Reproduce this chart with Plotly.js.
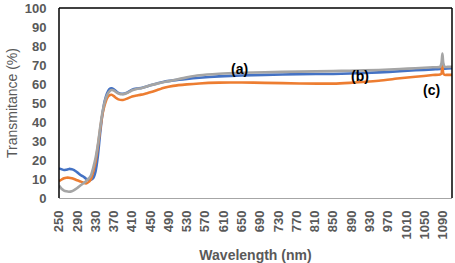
<!DOCTYPE html>
<html>
<head>
<meta charset="utf-8">
<script src="https://cdn.plot.ly/plotly-3.0.1.min.js"></script>
<style>html,body{margin:0;padding:0;background:#fff;}#chart{width:455px;height:263px;}</style>
</head>
<body>
<div id="chart"></div>
<script>
const wavelength = [250,255,261,266,272,278,283,290,298,305,309,312,316,320,325,330,335,340,345,350,355,360,365,370,375,380,390,400,410,420,430,440,450,465,480,500,530,557,600,650,700,776,850,886,950,996,1030,1068,1084,1087,1089,1091,1094,1100,1110];
const seriesB = [15.6,15.2,14.7,14.9,15.3,15.1,14.7,13.5,12,11,10.2,9.8,9.5,9.6,10.5,14,22,34,44,51,55,57.3,57.8,57.2,56.2,55.3,54.8,55.6,57,57.6,57.9,58.5,59.3,60.3,61.2,61.9,62.7,63.3,64,64.5,64.8,65.2,65.3,65.5,66.1,66.7,67.2,67.7,67.9,67.9,68,68,68.1,68.2,68.3];
const seriesC = [8.8,9.6,10.4,10.7,10.7,10.4,10,9.3,8.6,7.9,7.7,8,8.6,10,14,19,27,36,44,49,52.5,54,54.3,53.6,52.6,51.9,51.6,52.4,53.4,53.9,54.4,55,55.6,56.8,58,59,59.8,60.3,60.7,60.8,60.6,60.3,60.2,60.6,61.7,63,63.8,64.7,65,65.5,70,65.5,64.8,64.8,64.8];
const seriesA = [6.5,5,3.9,3.5,3.3,3.6,4.2,5.3,6.8,8,8.8,9.5,10.5,12,16,21,28,37,45,50.5,54,56,56.8,56.6,55.7,55,54.6,55.4,56.7,57.4,57.8,58.5,59.3,60.2,61,62,63.5,64.6,65.4,65.9,66.2,66.5,66.8,67,67.4,67.9,68.3,68.8,69,71,76,71,69,69,69.1];
const xTicks = [250,290,330,370,410,450,490,530,570,610,650,690,730,770,810,850,890,930,970,1010,1050,1090];
const yTicks = [0,10,20,30,40,50,60,70,80,90,100];
const labels = ["(a)","(b)","(c)"];
const labelX = [645,908,1066];
const labelY = [68,64,56.6];

const font = "'Liberation Sans', Arial, sans-serif";
const gray = "#595959";

const mk = (y, color) => ({x: wavelength, y: y, type: 'scatter', mode: 'lines',
  line: {color: color, width: 2.6, shape: 'spline', smoothing: 0.6}, hoverinfo: 'skip'});

const data = [mk(seriesB, '#4472C4'), mk(seriesC, '#ED7D31'), mk(seriesA, '#A5A5A5')];

const layout = {
  width: 455, height: 263,
  margin: {l: 59, r: 3, t: 8, b: 65},
  paper_bgcolor: '#fff', plot_bgcolor: '#fff',
  showlegend: false,
  font: {family: font, color: gray},
  xaxis: {
    range: [250, 1110], tickmode: 'array', tickvals: xTicks, ticktext: xTicks.map(String),
    tickangle: -90, showgrid: false, zeroline: false,
    showline: true, linecolor: '#A6A6A6', linewidth: 1.3,
    ticks: 'outside', ticklen: 6, tickcolor: 'rgba(0,0,0,0)',
    tickfont: {family: font, size: 13, color: gray, weight: 'bold'},
    title: {text: '<b>Wavelength (nm)</b>', font: {family: font, size: 14, color: gray}, standoff: 11}
  },
  yaxis: {
    range: [0, 100], tickmode: 'array', tickvals: yTicks, showgrid: false, zeroline: false,
    showline: false,
    ticks: 'outside', ticklen: 9, tickcolor: 'rgba(0,0,0,0)',
    tickfont: {family: font, size: 13, color: gray, weight: 'bold'},
    title: {text: 'Transmitance (%)', font: {family: font, size: 14, color: gray}, standoff: 3}
  },
  shapes: [
    {type: 'line', xref: 'paper', yref: 'paper', x0: 0, x1: 0, y0: 0, y1: 1, line: {color: '#000', width: 1.5}},
    {type: 'line', xref: 'paper', yref: 'paper', x0: 0, x1: 1, y0: 1, y1: 1, line: {color: '#000', width: 1.5}},
    {type: 'line', xref: 'paper', yref: 'paper', x0: 1, x1: 1, y0: 0, y1: 1, line: {color: '#000', width: 1.5}}
  ],
  annotations: labels.map((t, i) => ({x: labelX[i], y: labelY[i], xref: 'x', yref: 'y', text: '<b>' + t + '</b>',
    showarrow: false, font: {family: font, size: 14, color: '#000'}}))
};

Plotly.newPlot('chart', data, layout, {displayModeBar: false, staticPlot: true});
</script>
</body>
</html>
